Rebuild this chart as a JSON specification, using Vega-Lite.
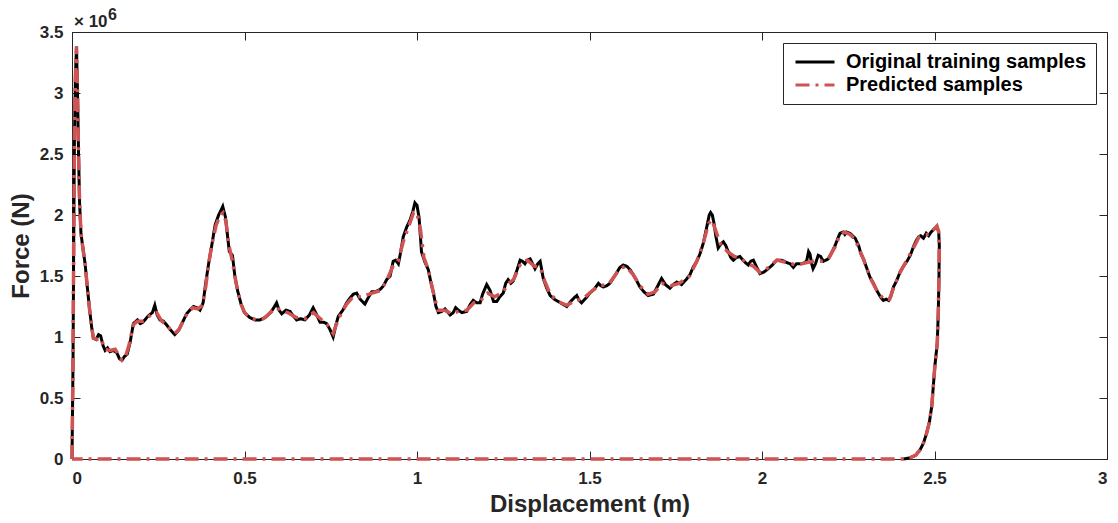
{
  "$schema": "https://vega.github.io/schema/vega-lite/v6.json",
  "width": 1035,
  "height": 427,
  "autosize": "none",
  "padding": {"left": 72, "top": 32, "right": 11, "bottom": 64},
  "background": "white",
  "config": {
    "view": {"stroke": "#262626", "strokeWidth": 1},
    "font": "Liberation Sans",
    "axis": {
      "grid": false,
      "domainColor": "#262626",
      "tickColor": "#262626",
      "labelColor": "#262626",
      "titleColor": "#262626",
      "labelFont": "Liberation Sans",
      "titleFont": "Liberation Sans",
      "labelFontWeight": "bold",
      "titleFontWeight": "bold",
      "labelFontSize": 17,
      "titleFontSize": 24,
      "tickSize": -8
    },
    "legend": {
      "orient": "top-right",
      "offset": 11,
      "strokeColor": "#262626",
      "fillColor": "white",
      "padding": 9,
      "symbolType": "M-3,0H3",
      "symbolSize": 169,
      "symbolOffset": 13,
      "symbolStrokeWidth": 3,
      "labelFont": "Liberation Sans",
      "labelFontSize": 20,
      "labelFontWeight": "bold",
      "labelColor": "black",
      "labelOffset": 21,
      "rowPadding": 3,
      "labelLimit": 400
    }
  },
  "data": {"values": [
    {"s":"O","x":0,"y":0},{"s":"O","x":0.003,"y":0.8},{"s":"O","x":0.005,"y":1.8},{"s":"O","x":0.007,"y":2.6},{"s":"O","x":0.01,"y":3.15},{"s":"O","x":0.013,"y":3.38},{"s":"O","x":0.016,"y":3.0},{"s":"O","x":0.019,"y":2.5},{"s":"O","x":0.022,"y":2.1},{"s":"O","x":0.026,"y":1.85},{"s":"O","x":0.032,"y":1.72},{"s":"O","x":0.038,"y":1.6},{"s":"O","x":0.043,"y":1.45},{"s":"O","x":0.05,"y":1.25},{"s":"O","x":0.057,"y":1.08},{"s":"O","x":0.062,"y":0.99},{"s":"O","x":0.07,"y":0.98},{"s":"O","x":0.077,"y":1.02},{"s":"O","x":0.083,"y":1.01},{"s":"O","x":0.09,"y":0.93},{"s":"O","x":0.096,"y":0.89},{"s":"O","x":0.103,"y":0.91},{"s":"O","x":0.11,"y":0.88},{"s":"O","x":0.12,"y":0.89},{"s":"O","x":0.13,"y":0.87},{"s":"O","x":0.138,"y":0.82},{"s":"O","x":0.145,"y":0.81},{"s":"O","x":0.152,"y":0.84},{"s":"O","x":0.16,"y":0.86},{"s":"O","x":0.168,"y":0.95},{"s":"O","x":0.178,"y":1.11},{"s":"O","x":0.19,"y":1.14},{"s":"O","x":0.198,"y":1.11},{"s":"O","x":0.205,"y":1.12},{"s":"O","x":0.22,"y":1.17},{"s":"O","x":0.233,"y":1.2},{"s":"O","x":0.24,"y":1.26},{"s":"O","x":0.247,"y":1.18},{"s":"O","x":0.255,"y":1.14},{"s":"O","x":0.265,"y":1.13},{"s":"O","x":0.274,"y":1.1},{"s":"O","x":0.285,"y":1.06},{"s":"O","x":0.298,"y":1.02},{"s":"O","x":0.31,"y":1.06},{"s":"O","x":0.322,"y":1.13},{"s":"O","x":0.332,"y":1.19},{"s":"O","x":0.345,"y":1.23},{"s":"O","x":0.352,"y":1.25},{"s":"O","x":0.362,"y":1.24},{"s":"O","x":0.371,"y":1.22},{"s":"O","x":0.38,"y":1.28},{"s":"O","x":0.388,"y":1.45},{"s":"O","x":0.396,"y":1.6},{"s":"O","x":0.405,"y":1.75},{"s":"O","x":0.415,"y":1.92},{"s":"O","x":0.425,"y":2.0},{"s":"O","x":0.437,"y":2.07},{"s":"O","x":0.445,"y":1.98},{"s":"O","x":0.45,"y":1.85},{"s":"O","x":0.456,"y":1.7},{"s":"O","x":0.465,"y":1.67},{"s":"O","x":0.472,"y":1.5},{"s":"O","x":0.48,"y":1.38},{"s":"O","x":0.49,"y":1.27},{"s":"O","x":0.5,"y":1.2},{"s":"O","x":0.515,"y":1.16},{"s":"O","x":0.53,"y":1.14},{"s":"O","x":0.545,"y":1.14},{"s":"O","x":0.56,"y":1.16},{"s":"O","x":0.575,"y":1.2},{"s":"O","x":0.585,"y":1.24},{"s":"O","x":0.593,"y":1.28},{"s":"O","x":0.6,"y":1.22},{"s":"O","x":0.608,"y":1.19},{"s":"O","x":0.62,"y":1.22},{"s":"O","x":0.632,"y":1.21},{"s":"O","x":0.642,"y":1.17},{"s":"O","x":0.651,"y":1.14},{"s":"O","x":0.663,"y":1.15},{"s":"O","x":0.675,"y":1.14},{"s":"O","x":0.688,"y":1.18},{"s":"O","x":0.699,"y":1.24},{"s":"O","x":0.708,"y":1.19},{"s":"O","x":0.719,"y":1.12},{"s":"O","x":0.73,"y":1.12},{"s":"O","x":0.738,"y":1.11},{"s":"O","x":0.748,"y":1.06},{"s":"O","x":0.757,"y":1.0},{"s":"O","x":0.765,"y":1.1},{"s":"O","x":0.772,"y":1.17},{"s":"O","x":0.785,"y":1.22},{"s":"O","x":0.796,"y":1.28},{"s":"O","x":0.806,"y":1.32},{"s":"O","x":0.815,"y":1.35},{"s":"O","x":0.825,"y":1.36},{"s":"O","x":0.835,"y":1.31},{"s":"O","x":0.849,"y":1.27},{"s":"O","x":0.86,"y":1.33},{"s":"O","x":0.869,"y":1.37},{"s":"O","x":0.88,"y":1.37},{"s":"O","x":0.893,"y":1.39},{"s":"O","x":0.903,"y":1.42},{"s":"O","x":0.912,"y":1.47},{"s":"O","x":0.922,"y":1.5},{"s":"O","x":0.931,"y":1.62},{"s":"O","x":0.938,"y":1.63},{"s":"O","x":0.946,"y":1.6},{"s":"O","x":0.953,"y":1.7},{"s":"O","x":0.96,"y":1.82},{"s":"O","x":0.97,"y":1.9},{"s":"O","x":0.98,"y":1.96},{"s":"O","x":0.988,"y":2.03},{"s":"O","x":0.994,"y":2.1},{"s":"O","x":1.0,"y":2.08},{"s":"O","x":1.006,"y":1.98},{"s":"O","x":1.013,"y":1.7},{"s":"O","x":1.022,"y":1.62},{"s":"O","x":1.033,"y":1.55},{"s":"O","x":1.04,"y":1.45},{"s":"O","x":1.047,"y":1.37},{"s":"O","x":1.055,"y":1.25},{"s":"O","x":1.062,"y":1.2},{"s":"O","x":1.072,"y":1.21},{"s":"O","x":1.081,"y":1.23},{"s":"O","x":1.09,"y":1.2},{"s":"O","x":1.096,"y":1.18},{"s":"O","x":1.105,"y":1.2},{"s":"O","x":1.112,"y":1.24},{"s":"O","x":1.12,"y":1.22},{"s":"O","x":1.13,"y":1.2},{"s":"O","x":1.144,"y":1.21},{"s":"O","x":1.155,"y":1.27},{"s":"O","x":1.163,"y":1.3},{"s":"O","x":1.173,"y":1.28},{"s":"O","x":1.183,"y":1.28},{"s":"O","x":1.19,"y":1.35},{"s":"O","x":1.202,"y":1.43},{"s":"O","x":1.212,"y":1.38},{"s":"O","x":1.222,"y":1.29},{"s":"O","x":1.231,"y":1.29},{"s":"O","x":1.24,"y":1.33},{"s":"O","x":1.25,"y":1.36},{"s":"O","x":1.257,"y":1.44},{"s":"O","x":1.264,"y":1.47},{"s":"O","x":1.272,"y":1.44},{"s":"O","x":1.279,"y":1.46},{"s":"O","x":1.29,"y":1.55},{"s":"O","x":1.299,"y":1.63},{"s":"O","x":1.306,"y":1.62},{"s":"O","x":1.313,"y":1.6},{"s":"O","x":1.32,"y":1.63},{"s":"O","x":1.328,"y":1.64},{"s":"O","x":1.335,"y":1.6},{"s":"O","x":1.342,"y":1.56},{"s":"O","x":1.35,"y":1.6},{"s":"O","x":1.357,"y":1.62},{"s":"O","x":1.366,"y":1.48},{"s":"O","x":1.376,"y":1.4},{"s":"O","x":1.386,"y":1.34},{"s":"O","x":1.398,"y":1.31},{"s":"O","x":1.41,"y":1.29},{"s":"O","x":1.422,"y":1.27},{"s":"O","x":1.434,"y":1.25},{"s":"O","x":1.445,"y":1.29},{"s":"O","x":1.455,"y":1.32},{"s":"O","x":1.463,"y":1.34},{"s":"O","x":1.47,"y":1.3},{"s":"O","x":1.477,"y":1.28},{"s":"O","x":1.49,"y":1.32},{"s":"O","x":1.501,"y":1.36},{"s":"O","x":1.513,"y":1.39},{"s":"O","x":1.526,"y":1.44},{"s":"O","x":1.533,"y":1.42},{"s":"O","x":1.54,"y":1.41},{"s":"O","x":1.55,"y":1.42},{"s":"O","x":1.559,"y":1.44},{"s":"O","x":1.573,"y":1.5},{"s":"O","x":1.588,"y":1.57},{"s":"O","x":1.598,"y":1.59},{"s":"O","x":1.608,"y":1.58},{"s":"O","x":1.618,"y":1.55},{"s":"O","x":1.627,"y":1.51},{"s":"O","x":1.637,"y":1.46},{"s":"O","x":1.646,"y":1.41},{"s":"O","x":1.658,"y":1.37},{"s":"O","x":1.67,"y":1.34},{"s":"O","x":1.685,"y":1.35},{"s":"O","x":1.698,"y":1.42},{"s":"O","x":1.709,"y":1.48},{"s":"O","x":1.72,"y":1.43},{"s":"O","x":1.733,"y":1.4},{"s":"O","x":1.743,"y":1.43},{"s":"O","x":1.753,"y":1.45},{"s":"O","x":1.767,"y":1.43},{"s":"O","x":1.78,"y":1.47},{"s":"O","x":1.791,"y":1.51},{"s":"O","x":1.8,"y":1.57},{"s":"O","x":1.811,"y":1.62},{"s":"O","x":1.82,"y":1.68},{"s":"O","x":1.83,"y":1.77},{"s":"O","x":1.836,"y":1.85},{"s":"O","x":1.842,"y":1.93},{"s":"O","x":1.847,"y":2.0},{"s":"O","x":1.851,"y":2.02},{"s":"O","x":1.856,"y":2.0},{"s":"O","x":1.861,"y":1.93},{"s":"O","x":1.866,"y":1.83},{"s":"O","x":1.873,"y":1.73},{"s":"O","x":1.88,"y":1.76},{"s":"O","x":1.888,"y":1.78},{"s":"O","x":1.895,"y":1.75},{"s":"O","x":1.902,"y":1.7},{"s":"O","x":1.91,"y":1.65},{"s":"O","x":1.917,"y":1.63},{"s":"O","x":1.925,"y":1.65},{"s":"O","x":1.936,"y":1.66},{"s":"O","x":1.948,"y":1.62},{"s":"O","x":1.96,"y":1.59},{"s":"O","x":1.967,"y":1.62},{"s":"O","x":1.975,"y":1.63},{"s":"O","x":1.985,"y":1.57},{"s":"O","x":1.994,"y":1.52},{"s":"O","x":2.004,"y":1.53},{"s":"O","x":2.014,"y":1.55},{"s":"O","x":2.03,"y":1.59},{"s":"O","x":2.043,"y":1.63},{"s":"O","x":2.057,"y":1.63},{"s":"O","x":2.072,"y":1.61},{"s":"O","x":2.082,"y":1.6},{"s":"O","x":2.091,"y":1.57},{"s":"O","x":2.1,"y":1.6},{"s":"O","x":2.115,"y":1.6},{"s":"O","x":2.125,"y":1.61},{"s":"O","x":2.13,"y":1.63},{"s":"O","x":2.135,"y":1.7},{"s":"O","x":2.139,"y":1.68},{"s":"O","x":2.144,"y":1.6},{"s":"O","x":2.148,"y":1.56},{"s":"O","x":2.155,"y":1.6},{"s":"O","x":2.163,"y":1.67},{"s":"O","x":2.17,"y":1.66},{"s":"O","x":2.178,"y":1.62},{"s":"O","x":2.185,"y":1.63},{"s":"O","x":2.192,"y":1.64},{"s":"O","x":2.2,"y":1.68},{"s":"O","x":2.212,"y":1.75},{"s":"O","x":2.22,"y":1.81},{"s":"O","x":2.226,"y":1.85},{"s":"O","x":2.235,"y":1.86},{"s":"O","x":2.24,"y":1.84},{"s":"O","x":2.245,"y":1.86},{"s":"O","x":2.255,"y":1.85},{"s":"O","x":2.27,"y":1.81},{"s":"O","x":2.28,"y":1.75},{"s":"O","x":2.287,"y":1.68},{"s":"O","x":2.294,"y":1.64},{"s":"O","x":2.303,"y":1.57},{"s":"O","x":2.313,"y":1.49},{"s":"O","x":2.323,"y":1.44},{"s":"O","x":2.333,"y":1.38},{"s":"O","x":2.343,"y":1.33},{"s":"O","x":2.352,"y":1.3},{"s":"O","x":2.36,"y":1.31},{"s":"O","x":2.367,"y":1.3},{"s":"O","x":2.373,"y":1.33},{"s":"O","x":2.381,"y":1.41},{"s":"O","x":2.39,"y":1.46},{"s":"O","x":2.4,"y":1.53},{"s":"O","x":2.41,"y":1.58},{"s":"O","x":2.42,"y":1.62},{"s":"O","x":2.43,"y":1.67},{"s":"O","x":2.439,"y":1.74},{"s":"O","x":2.447,"y":1.79},{"s":"O","x":2.454,"y":1.82},{"s":"O","x":2.46,"y":1.83},{"s":"O","x":2.468,"y":1.81},{"s":"O","x":2.476,"y":1.85},{"s":"O","x":2.483,"y":1.83},{"s":"O","x":2.49,"y":1.86},{"s":"O","x":2.497,"y":1.88},{"s":"O","x":2.506,"y":1.9},{"s":"O","x":2.512,"y":1.87},{"s":"O","x":2.514,"y":1.75},{"s":"O","x":2.513,"y":1.5},{"s":"O","x":2.511,"y":1.2},{"s":"O","x":2.508,"y":0.95},{"s":"O","x":2.501,"y":0.76},{"s":"O","x":2.492,"y":0.43},{"s":"O","x":2.485,"y":0.3},{"s":"O","x":2.477,"y":0.21},{"s":"O","x":2.468,"y":0.13},{"s":"O","x":2.458,"y":0.074},{"s":"O","x":2.445,"y":0.03},{"s":"O","x":2.429,"y":0.01},{"s":"O","x":2.41,"y":0},
    {"s":"P","x":0,"y":0},{"s":"P","x":0.003,"y":0.8},{"s":"P","x":0.005,"y":1.8},{"s":"P","x":0.007,"y":2.6},{"s":"P","x":0.01,"y":3.15},{"s":"P","x":0.013,"y":3.38},{"s":"P","x":0.016,"y":3.0},{"s":"P","x":0.019,"y":2.5},{"s":"P","x":0.022,"y":2.1},{"s":"P","x":0.026,"y":1.85},{"s":"P","x":0.032,"y":1.72},{"s":"P","x":0.038,"y":1.6},{"s":"P","x":0.043,"y":1.45},{"s":"P","x":0.05,"y":1.25},{"s":"P","x":0.057,"y":1.08},{"s":"P","x":0.062,"y":0.99},{"s":"P","x":0.072,"y":0.98},{"s":"P","x":0.083,"y":0.99},{"s":"P","x":0.096,"y":0.9},{"s":"P","x":0.11,"y":0.89},{"s":"P","x":0.125,"y":0.9},{"s":"P","x":0.138,"y":0.84},{"s":"P","x":0.145,"y":0.81},{"s":"P","x":0.155,"y":0.84},{"s":"P","x":0.165,"y":0.93},{"s":"P","x":0.178,"y":1.1},{"s":"P","x":0.19,"y":1.13},{"s":"P","x":0.205,"y":1.13},{"s":"P","x":0.22,"y":1.16},{"s":"P","x":0.235,"y":1.2},{"s":"P","x":0.245,"y":1.2},{"s":"P","x":0.26,"y":1.13},{"s":"P","x":0.274,"y":1.1},{"s":"P","x":0.288,"y":1.05},{"s":"P","x":0.298,"y":1.03},{"s":"P","x":0.31,"y":1.06},{"s":"P","x":0.322,"y":1.13},{"s":"P","x":0.335,"y":1.2},{"s":"P","x":0.35,"y":1.24},{"s":"P","x":0.365,"y":1.23},{"s":"P","x":0.378,"y":1.26},{"s":"P","x":0.388,"y":1.42},{"s":"P","x":0.396,"y":1.6},{"s":"P","x":0.405,"y":1.75},{"s":"P","x":0.418,"y":1.92},{"s":"P","x":0.43,"y":2.0},{"s":"P","x":0.438,"y":2.02},{"s":"P","x":0.446,"y":1.95},{"s":"P","x":0.455,"y":1.75},{"s":"P","x":0.465,"y":1.62},{"s":"P","x":0.475,"y":1.45},{"s":"P","x":0.49,"y":1.27},{"s":"P","x":0.5,"y":1.2},{"s":"P","x":0.515,"y":1.16},{"s":"P","x":0.535,"y":1.14},{"s":"P","x":0.555,"y":1.15},{"s":"P","x":0.575,"y":1.2},{"s":"P","x":0.59,"y":1.24},{"s":"P","x":0.605,"y":1.22},{"s":"P","x":0.625,"y":1.2},{"s":"P","x":0.65,"y":1.16},{"s":"P","x":0.675,"y":1.15},{"s":"P","x":0.7,"y":1.2},{"s":"P","x":0.72,"y":1.15},{"s":"P","x":0.74,"y":1.1},{"s":"P","x":0.757,"y":1.03},{"s":"P","x":0.772,"y":1.15},{"s":"P","x":0.796,"y":1.27},{"s":"P","x":0.815,"y":1.33},{"s":"P","x":0.84,"y":1.33},{"s":"P","x":0.87,"y":1.36},{"s":"P","x":0.893,"y":1.38},{"s":"P","x":0.912,"y":1.46},{"s":"P","x":0.93,"y":1.58},{"s":"P","x":0.945,"y":1.62},{"s":"P","x":0.96,"y":1.78},{"s":"P","x":0.975,"y":1.9},{"s":"P","x":0.99,"y":2.02},{"s":"P","x":1.0,"y":2.02},{"s":"P","x":1.01,"y":1.88},{"s":"P","x":1.02,"y":1.65},{"s":"P","x":1.033,"y":1.55},{"s":"P","x":1.047,"y":1.37},{"s":"P","x":1.06,"y":1.22},{"s":"P","x":1.08,"y":1.22},{"s":"P","x":1.1,"y":1.19},{"s":"P","x":1.12,"y":1.21},{"s":"P","x":1.145,"y":1.22},{"s":"P","x":1.165,"y":1.28},{"s":"P","x":1.185,"y":1.3},{"s":"P","x":1.205,"y":1.36},{"s":"P","x":1.225,"y":1.33},{"s":"P","x":1.25,"y":1.37},{"s":"P","x":1.265,"y":1.44},{"s":"P","x":1.28,"y":1.47},{"s":"P","x":1.3,"y":1.6},{"s":"P","x":1.32,"y":1.63},{"s":"P","x":1.34,"y":1.58},{"s":"P","x":1.357,"y":1.57},{"s":"P","x":1.37,"y":1.46},{"s":"P","x":1.386,"y":1.35},{"s":"P","x":1.41,"y":1.29},{"s":"P","x":1.434,"y":1.26},{"s":"P","x":1.46,"y":1.3},{"s":"P","x":1.48,"y":1.31},{"s":"P","x":1.5,"y":1.36},{"s":"P","x":1.526,"y":1.42},{"s":"P","x":1.555,"y":1.43},{"s":"P","x":1.588,"y":1.56},{"s":"P","x":1.605,"y":1.58},{"s":"P","x":1.627,"y":1.51},{"s":"P","x":1.646,"y":1.42},{"s":"P","x":1.67,"y":1.35},{"s":"P","x":1.69,"y":1.37},{"s":"P","x":1.71,"y":1.44},{"s":"P","x":1.735,"y":1.42},{"s":"P","x":1.76,"y":1.44},{"s":"P","x":1.79,"y":1.5},{"s":"P","x":1.811,"y":1.62},{"s":"P","x":1.83,"y":1.77},{"s":"P","x":1.845,"y":1.93},{"s":"P","x":1.855,"y":1.96},{"s":"P","x":1.866,"y":1.87},{"s":"P","x":1.88,"y":1.76},{"s":"P","x":1.9,"y":1.7},{"s":"P","x":1.92,"y":1.66},{"s":"P","x":1.94,"y":1.64},{"s":"P","x":1.96,"y":1.6},{"s":"P","x":1.975,"y":1.58},{"s":"P","x":1.994,"y":1.53},{"s":"P","x":2.01,"y":1.55},{"s":"P","x":2.043,"y":1.63},{"s":"P","x":2.072,"y":1.61},{"s":"P","x":2.1,"y":1.59},{"s":"P","x":2.13,"y":1.61},{"s":"P","x":2.15,"y":1.62},{"s":"P","x":2.17,"y":1.62},{"s":"P","x":2.192,"y":1.64},{"s":"P","x":2.212,"y":1.74},{"s":"P","x":2.226,"y":1.84},{"s":"P","x":2.24,"y":1.86},{"s":"P","x":2.255,"y":1.84},{"s":"P","x":2.27,"y":1.8},{"s":"P","x":2.294,"y":1.64},{"s":"P","x":2.313,"y":1.49},{"s":"P","x":2.333,"y":1.38},{"s":"P","x":2.352,"y":1.31},{"s":"P","x":2.37,"y":1.31},{"s":"P","x":2.381,"y":1.4},{"s":"P","x":2.4,"y":1.53},{"s":"P","x":2.42,"y":1.63},{"s":"P","x":2.439,"y":1.73},{"s":"P","x":2.455,"y":1.82},{"s":"P","x":2.47,"y":1.84},{"s":"P","x":2.485,"y":1.84},{"s":"P","x":2.497,"y":1.88},{"s":"P","x":2.507,"y":1.91},{"s":"P","x":2.512,"y":1.86},{"s":"P","x":2.514,"y":1.75},{"s":"P","x":2.513,"y":1.5},{"s":"P","x":2.511,"y":1.2},{"s":"P","x":2.508,"y":0.95},{"s":"P","x":2.501,"y":0.76},{"s":"P","x":2.492,"y":0.43},{"s":"P","x":2.485,"y":0.3},{"s":"P","x":2.477,"y":0.21},{"s":"P","x":2.468,"y":0.13},{"s":"P","x":2.458,"y":0.074},{"s":"P","x":2.445,"y":0.03},{"s":"P","x":2.429,"y":0.01},{"s":"P","x":2.41,"y":0},{"s":"P","x":1.2,"y":0},{"s":"P","x":0,"y":0}
  ]},
  "resolve": {"axis": {"x": "independent", "y": "independent"}},
  "layer": [
    {
      "transform": [{"filter": "datum.s === 'O'"}],
      "mark": {"type": "line", "strokeWidth": 3},
      "encoding": {
        "x": {"field": "x", "type": "quantitative", "scale": {"domain": [0, 3], "nice": false, "zero": false},
          "axis": {"orient": "bottom", "title": "Displacement (m)", "values": [0, 0.5, 1, 1.5, 2, 2.5, 3], "format": "~g", "labelPadding": 19, "titlePadding": 6}},
        "y": {"field": "y", "type": "quantitative", "scale": {"domain": [0, 3.5], "nice": false, "zero": false},
          "axis": {"orient": "left", "title": "Force (N)", "values": [0, 0.5, 1, 1.5, 2, 2.5, 3, 3.5], "format": "~g", "labelPadding": 17, "titlePadding": 6}},
        "color": {"field": "s", "type": "nominal",
          "scale": {"domain": ["O", "P"], "range": ["#000000", "#cf5353"]},
          "legend": {"title": null, "labelExpr": "datum.label === 'O' ? 'Original training samples' : 'Predicted samples'"}},
        "strokeDash": {"field": "s", "type": "nominal",
          "scale": {"domain": ["O", "P"], "range": [[1, 0], [14, 6, 3, 6]]},
          "legend": {"title": null, "labelExpr": "datum.label === 'O' ? 'Original training samples' : 'Predicted samples'"}},
        "order": {"value": null}
      }
    },
    {
      "transform": [{"filter": "datum.s === 'P'"}],
      "mark": {"type": "line", "strokeWidth": 3.5},
      "encoding": {
        "x": {"field": "x", "type": "quantitative",
          "axis": {"orient": "top", "title": null, "labels": false, "domain": false, "values": [0, 0.5, 1, 1.5, 2, 2.5, 3]}},
        "y": {"field": "y", "type": "quantitative",
          "axis": {"orient": "right", "title": null, "labels": false, "domain": false, "values": [0, 0.5, 1, 1.5, 2, 2.5, 3, 3.5]}},
        "color": {"field": "s", "type": "nominal"},
        "strokeDash": {"field": "s", "type": "nominal"},
        "order": {"value": null}
      }
    },
    {
      "data": {"values": [{"t": "× 10"}]},
      "mark": {"type": "text", "align": "left", "baseline": "alphabetic", "dx": 2, "dy": -5, "fontSize": 17, "fontWeight": "bold", "font": "Liberation Sans", "color": "#262626"},
      "encoding": {
        "x": {"datum": 0, "type": "quantitative", "axis": null},
        "y": {"datum": 3.5, "type": "quantitative", "axis": null},
        "text": {"field": "t"}
      }
    },
    {
      "data": {"values": [{"t": "6"}]},
      "mark": {"type": "text", "align": "left", "baseline": "alphabetic", "dx": 36, "dy": -12, "fontSize": 16, "fontWeight": "bold", "font": "Liberation Sans", "color": "#262626"},
      "encoding": {
        "x": {"datum": 0, "type": "quantitative", "axis": null},
        "y": {"datum": 3.5, "type": "quantitative", "axis": null},
        "text": {"field": "t"}
      }
    }
  ]
}
